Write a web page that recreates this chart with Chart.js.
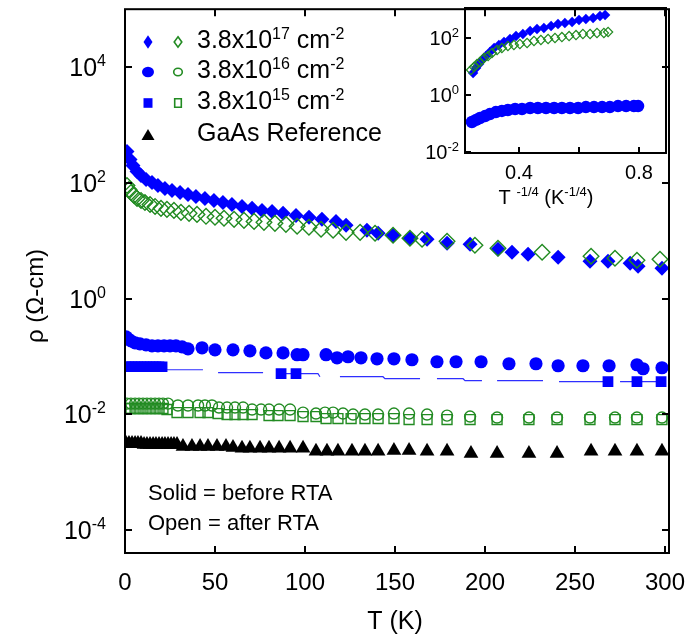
<!DOCTYPE html>
<html>
<head>
<meta charset="utf-8">
<script src="https://cdn.jsdelivr.net/npm/chart.js@4.4.0/dist/chart.umd.min.js"></script>
<style>
  html, body { margin: 0; padding: 0; background: #fff; }
  #wrap { position: relative; width: 690px; height: 642px; }
  #wrap canvas { position: absolute; left: 0; top: 0; }
</style>
</head>
<body>
<div id="wrap">
  <canvas id="mainChart" width="690" height="642"></canvas>
  <canvas id="insetChart" width="690" height="642"></canvas>
</div>
<script>
// ---- main plot: T (K) vs rho (ohm-cm) ----
const T_d17Before = [1.1, 2.8, 4.4, 6.7, 8.9, 11.7, 15, 18.3, 22.2, 26.1, 30.6, 35, 39.4, 44.4, 49.4, 54.4, 59.4, 65, 70.6, 76.1, 81.7, 87.8, 95, 102.2, 109.4, 117.2, 122.8, 134.4, 140.6, 148.9, 158.3, 167.8, 178.9, 191.7, 207.2, 215, 223.9, 240.6, 258.3, 268.3, 280.6, 285, 298.3];
const rho_d17Before = [345, 251, 198, 156, 133, 114, 101, 89.7, 79.7, 73.6, 67.9, 62.8, 58.0, 53.6, 49.5, 45.7, 42.2, 39.0, 36.1, 33.3, 32.0, 29.6, 27.3, 25.3, 23.3, 21.5, 18.4, 15.1, 13.4, 12.4, 11.0, 10.6, 9.0, 8.66, 7.11, 6.31, 5.83, 5.18, 4.42, 4.42, 4.08, 3.62, 3.35];

const T_d17After = [1.1, 2.2, 3.3, 5.0, 6.7, 8.9, 11.1, 13.9, 16.7, 20.0, 23.3, 27.2, 31.1, 35.6, 40.0, 45.0, 50.0, 55.0, 60.6, 66.1, 71.7, 77.2, 83.3, 89.4, 95.6, 102.2, 108.9, 115.6, 122.8, 130.6, 138.9, 148.9, 158.3, 165.0, 178.9, 194.4, 207.2, 231.7, 258.9, 272.2, 284.4, 297.2];
const rho_d17After = [89.7, 76.6, 67.9, 60.4, 53.6, 49.5, 45.7, 42.2, 39.0, 36.1, 34.7, 33.3, 30.8, 29.6, 28.4, 26.3, 25.3, 24.3, 23.3, 22.4, 21.5, 20.7, 19.9, 19.1, 17.7, 17.0, 15.7, 15.1, 13.9, 13.9, 13.4, 12.4, 11.0, 10.6, 9.75, 8.32, 7.39, 6.31, 5.38, 4.97, 4.59, 4.78];

const T_c16Before = [0.6, 1.7, 3.3, 5.6, 8.3, 11.7, 15.0, 18.3, 21.7, 25.0, 28.3, 31.7, 35.0, 42.8, 50.0, 60.0, 69.4, 78.3, 87.8, 95.6, 98.9, 111.7, 117.8, 123.9, 131.1, 140.0, 149.4, 159.4, 173.3, 183.9, 197.8, 213.3, 228.3, 240.6, 254.4, 268.9, 284.4, 287.8, 298.3];
const rho_c16Before = [0.218, 0.201, 0.186, 0.172, 0.165, 0.158, 0.152, 0.152, 0.152, 0.152, 0.152, 0.146, 0.135, 0.141, 0.130, 0.130, 0.125, 0.115, 0.115, 0.107, 0.107, 0.107, 0.0947, 0.0986, 0.0947, 0.0910, 0.0910, 0.0875, 0.0809, 0.0809, 0.0809, 0.0747, 0.0747, 0.0690, 0.0690, 0.0690, 0.0718, 0.0612, 0.0637];

const T_c16After = [1.1, 3.3, 5.6, 7.8, 10.0, 12.2, 14.4, 16.7, 18.9, 21.1, 23.9, 29.4, 35.0, 40.6, 44.4, 48.3, 52.2, 56.7, 61.1, 65.6, 70.6, 75.6, 80.0, 85.6, 91.7, 98.9, 106.1, 111.1, 115.6, 121.1, 126.7, 133.3, 140.6, 149.4, 157.8, 167.8, 178.9, 191.7, 206.7, 224.4, 240.0, 258.3, 272.2, 284.4, 298.3];
const rho_c16After = [0.0153, 0.0153, 0.0153, 0.0153, 0.0153, 0.0153, 0.0153, 0.0153, 0.0153, 0.0153, 0.0153, 0.0142, 0.0142, 0.0142, 0.0142, 0.0142, 0.0131, 0.0131, 0.0131, 0.0131, 0.0121, 0.0121, 0.0121, 0.0121, 0.0121, 0.0107, 0.0103, 0.0107, 0.0107, 0.0103, 0.0099, 0.0099, 0.0099, 0.0103, 0.0103, 0.0099, 0.0095, 0.00915, 0.00879, 0.00879, 0.00879, 0.00879, 0.00879, 0.00879, 0.00879];

// 3.8e15 before: visible square markers, and the thin trace that joins the series
const T_s15Before = [0.6, 2.2, 3.9, 5.6, 7.2, 8.9, 10.6, 12.2, 13.9, 15.6, 17.2, 18.9, 20.6, 86.7, 95.0, 268.3, 284.4, 297.8];
const rho_s15Before = [0.0663, 0.0663, 0.0663, 0.0663, 0.0663, 0.0663, 0.0663, 0.0663, 0.0663, 0.0663, 0.0663, 0.0663, 0.0663, 0.0503, 0.0503, 0.0366, 0.0366, 0.0366];
const T_s15Trace = [21.1, 43.3, 47, 51.7, 76.7, 82, 86.7, 95.0, 107.2, 108.3, 114, 119.4, 143.3, 144.4, 163.9, 168, 173.3, 187.8, 188.9, 198.3, 202, 206.7, 232.2, 236, 241.1, 268.3, 272, 275.0, 297.8];
const rho_s15Trace = [0.0589, 0.0589, null, 0.0523, 0.0523, null, 0.0503, 0.0503, 0.0503, 0.0446, null, 0.0446, 0.0446, 0.0412, 0.0412, null, 0.0412, 0.0412, 0.0381, 0.0381, null, 0.0381, 0.0381, null, 0.0366, 0.0366, null, 0.0366, 0.0366];

const T_s15After = [1.1, 3.3, 5.6, 7.8, 10.0, 12.2, 14.4, 16.7, 18.9, 21.1, 23.3, 28.9, 35.0, 41.7, 46.1, 51.7, 56.7, 61.1, 65.6, 70.6, 80.0, 85.0, 91.7, 98.9, 106.1, 111.7, 118.3, 125.6, 133.3, 140.6, 149.4, 157.8, 167.8, 178.9, 191.7, 206.7, 224.4, 240.0, 258.3, 272.2, 284.4, 298.3];
const rho_s15After = [0.0126, 0.0126, 0.0126, 0.0126, 0.0126, 0.0126, 0.0126, 0.0126, 0.0126, 0.0126, 0.0121, 0.0107, 0.0107, 0.0107, 0.0107, 0.0103, 0.0099, 0.0099, 0.0099, 0.0099, 0.0095, 0.0095, 0.0095, 0.00915, 0.00915, 0.00845, 0.00845, 0.00845, 0.00845, 0.00845, 0.00845, 0.00812, 0.00812, 0.00812, 0.00812, 0.00812, 0.00812, 0.00812, 0.00812, 0.00812, 0.00812, 0.00812];

const T_gaas = [0.6, 2.2, 3.9, 5.6, 7.2, 8.9, 10.6, 12.2, 13.9, 15.6, 17.2, 18.9, 20.6, 22.2, 23.9, 25.6, 27.2, 28.9, 32.2, 37.2, 41.7, 46.1, 51.1, 56.1, 60.0, 65.0, 69.4, 75.0, 80.0, 85.6, 91.7, 98.9, 106.1, 112.2, 118.3, 126.1, 133.3, 140.6, 149.4, 157.8, 167.8, 178.9, 192.2, 206.7, 224.4, 240.0, 258.9, 272.2, 284.4, 298.3];
const rho_gaas = [0.00314, 0.00314, 0.00314, 0.00314, 0.00314, 0.00314, 0.00302, 0.00302, 0.00302, 0.00302, 0.00302, 0.00302, 0.00302, 0.00302, 0.00302, 0.00302, 0.00302, 0.00302, 0.00279, 0.00279, 0.00279, 0.00279, 0.00279, 0.00279, 0.00268, 0.00258, 0.00258, 0.00258, 0.00258, 0.00258, 0.00258, 0.00258, 0.00229, 0.00229, 0.00229, 0.00229, 0.00229, 0.00229, 0.00238, 0.00238, 0.00229, 0.00229, 0.00211, 0.00211, 0.00211, 0.00211, 0.00229, 0.00229, 0.00229, 0.00229];

// ---- inset: T^-1/4 vs rho ----
const X_ins17Before = [0.247, 0.257, 0.267, 0.277, 0.290, 0.303, 0.317, 0.333, 0.350, 0.370, 0.390, 0.413, 0.437, 0.460, 0.483, 0.507, 0.530, 0.553, 0.577, 0.600, 0.623, 0.647, 0.670, 0.687];
const rho_ins17Before = [5.91, 8.86, 12.2, 16.9, 23.4, 32.3, 44.6, 56.8, 72.4, 92.2, 117, 138, 176, 207, 224, 264, 310, 336, 364, 428, 464, 503, 592, 641];
const X_ins17After = [0.240, 0.250, 0.260, 0.270, 0.283, 0.297, 0.310, 0.327, 0.343, 0.363, 0.383, 0.403, 0.427, 0.450, 0.473, 0.497, 0.520, 0.543, 0.567, 0.590, 0.613, 0.637, 0.660, 0.683, 0.697];
const rho_ins17After = [7.54, 9.6, 12.2, 14.4, 19.9, 23.4, 29.8, 37.9, 44.6, 52.4, 56.8, 61.6, 66.8, 78.5, 85.1, 92.2, 100, 108, 117, 127, 138, 138, 150, 150, 162];
const X_ins16Before = [0.243, 0.257, 0.270, 0.287, 0.303, 0.323, 0.343, 0.363, 0.387, 0.410, 0.437, 0.463, 0.490, 0.517, 0.543, 0.570, 0.597, 0.623, 0.650, 0.677, 0.703, 0.730, 0.757, 0.783, 0.797];
const rho_ins16Before = [0.113, 0.133, 0.156, 0.183, 0.215, 0.253, 0.275, 0.298, 0.323, 0.323, 0.350, 0.350, 0.350, 0.350, 0.350, 0.350, 0.350, 0.379, 0.379, 0.379, 0.379, 0.411, 0.411, 0.411, 0.411];

// ---- ticks and texts ----
const xTickValues = [0, 50, 100, 150, 200, 250, 300];
const yTickExponents = [4, 2, 0, -2, -4];
const insetXTicks = [0.4, 0.6, 0.8];
const insetXLabels = ['0.4', '0.8'];
const insetYExponents = [2, 0, -2];
const legendTexts = [
    [['3.8x10', 0], ['17', 1], [' cm', 0], ['-2', 1]],
    [['3.8x10', 0], ['16', 1], [' cm', 0], ['-2', 1]],
    [['3.8x10', 0], ['15', 1], [' cm', 0], ['-2', 1]],
    [['GaAs Reference', 0]]
];
const noteTexts = ['Solid = before RTA', 'Open = after RTA'];

const FONT = "'Liberation Sans', Arial, sans-serif";
const BLUE = '#0000ff';
const GREEN = '#228b22';

function pts(xs, ys) {
    return xs.map((x, i) => ({ x: x, y: ys[i] }));
}

// text with superscript pieces: parts = [[text, isSup], ...]
function drawRich(ctx, parts, x, y, size, supSize, rise, align) {
    let w = 0;
    parts.forEach(p => {
        ctx.font = (p[1] ? supSize : size) + 'px ' + FONT;
        w += ctx.measureText(p[0]).width;
    });
    let cx = align === 'right' ? x - w : (align === 'center' ? x - w / 2 : x);
    ctx.textAlign = 'left';
    ctx.textBaseline = 'alphabetic';
    parts.forEach(p => {
        ctx.font = (p[1] ? supSize : size) + 'px ' + FONT;
        ctx.fillText(p[0], cx, p[1] ? y - rise : y);
        cx += ctx.measureText(p[0]).width;
    });
}

function legendMarker(ctx, kind, x, y, filled, color) {
    ctx.beginPath();
    if (kind === 'diamond') {
        const w = filled ? 4.5 : 3.8, h = filled ? 6.8 : 5.2;
        ctx.moveTo(x, y - h); ctx.lineTo(x + w, y); ctx.lineTo(x, y + h); ctx.lineTo(x - w, y); ctx.closePath();
    } else if (kind === 'circle') {
        if (filled) ctx.ellipse(x, y, 6, 5.2, 0, 0, Math.PI * 2);
        else ctx.ellipse(x, y, 4.3, 3.8, 0, 0, Math.PI * 2);
    } else if (kind === 'square') {
        if (filled) ctx.rect(x - 4.5, y - 4.8, 9, 9.6);
        else ctx.rect(x - 3.3, y - 4.3, 6.6, 8.6);
    } else {
        ctx.moveTo(x, y - 6); ctx.lineTo(x + 6.5, y + 5); ctx.lineTo(x - 6.5, y + 5); ctx.closePath();
    }
    if (filled) { ctx.fillStyle = color; ctx.fill(); }
    else { ctx.strokeStyle = color; ctx.lineWidth = 1.6; ctx.stroke(); }
}

const mainFrame = {
    id: 'mainFrame',
    afterDraw(chart) {
        const ctx = chart.ctx;
        const a = chart.chartArea;
        const xs = chart.scales.x, ys = chart.scales.y;
        ctx.save();
        ctx.strokeStyle = '#000';
        ctx.fillStyle = '#000';
        ctx.lineWidth = 2;
        ctx.strokeRect(a.left, a.top, a.right - a.left, a.bottom - a.top);

        // ticks pointing inward
        ctx.beginPath();
        yTickExponents.forEach(e => {
            const py = Math.round(ys.getPixelForValue(Math.pow(10, e)));
            ctx.moveTo(a.left, py); ctx.lineTo(a.left + 7, py);
            ctx.moveTo(a.right, py); ctx.lineTo(a.right - 7, py);
        });
        xTickValues.forEach(v => {
            const px = Math.round(xs.getPixelForValue(v));
            ctx.moveTo(px, a.top); ctx.lineTo(px, a.top + 7);
            ctx.moveTo(px, a.bottom); ctx.lineTo(px, a.bottom - 7);
        });
        ctx.stroke();

        // y tick labels 10^n
        yTickExponents.forEach(e => {
            const py = ys.getPixelForValue(Math.pow(10, e));
            drawRich(ctx, [['10', 0], [String(e), 1]], 106, py + 9, 25, 16, 10, 'right');
        });
        // x tick labels
        ctx.font = '24px ' + FONT;
        ctx.textAlign = 'center';
        ctx.textBaseline = 'alphabetic';
        xTickValues.forEach(v => {
            ctx.fillText(String(v), xs.getPixelForValue(v), 590);
        });
        // axis titles
        ctx.font = '25px ' + FONT;
        ctx.fillText('T (K)', (a.left + a.right) / 2 - 2, 629);
        ctx.save();
        ctx.translate(36, 296);
        ctx.rotate(-Math.PI / 2);
        ctx.textBaseline = 'middle';
        ctx.font = '24px ' + FONT;
        ctx.fillText('\u03c1 (\u03a9-cm)', 0, 0);
        ctx.restore();

        // legend
        const rowY = [42, 72, 103, 135];
        const kinds = ['diamond', 'circle', 'square', 'triangle'];
        kinds.forEach((k, i) => {
            legendMarker(ctx, k, 148, rowY[i], true, k === 'triangle' ? '#000' : BLUE);
            if (k !== 'triangle') legendMarker(ctx, k, 178, rowY[i], false, GREEN);
            ctx.fillStyle = '#000';
            drawRich(ctx, legendTexts[i], 197, rowY[i] + 6, 25, 16, 9, 'left');
        });

        // notes
        ctx.fillStyle = '#000';
        ctx.font = '22px ' + FONT;
        ctx.textAlign = 'left';
        ctx.fillText(noteTexts[0], 148, 500);
        ctx.fillText(noteTexts[1], 148, 530);
        ctx.restore();
    }
};

const insetFrame = {
    id: 'insetFrame',
    afterDraw(chart) {
        const ctx = chart.ctx;
        const a = chart.chartArea;
        const xs = chart.scales.x, ys = chart.scales.y;
        ctx.save();
        ctx.strokeStyle = '#000';
        ctx.fillStyle = '#000';
        ctx.lineWidth = 2;
        ctx.strokeRect(a.left, a.top, a.right - a.left, a.bottom - a.top);
        ctx.beginPath();
        insetXTicks.forEach(v => {
            const px = Math.round(xs.getPixelForValue(v));
            ctx.moveTo(px, a.bottom); ctx.lineTo(px, a.bottom - 6);
        });
        insetYExponents.forEach(e => {
            const py = Math.round(ys.getPixelForValue(Math.pow(10, e)));
            ctx.moveTo(a.left, py); ctx.lineTo(a.left + 6, py);
        });
        ctx.stroke();

        insetYExponents.forEach(e => {
            const py = ys.getPixelForValue(Math.pow(10, e));
            drawRich(ctx, [['10', 0], [String(e), 1]], 459, py + 7, 20, 13, 8, 'right');
        });
        ctx.font = '20px ' + FONT;
        ctx.textAlign = 'center';
        ctx.textBaseline = 'alphabetic';
        insetXLabels.forEach(t => {
            ctx.fillText(t, xs.getPixelForValue(parseFloat(t)), 179);
        });
        drawRich(ctx, [['T ', 0], ['-1/4', 1], [' (K', 0], ['-1/4', 1], [')', 0]], 546, 204, 20, 13, 8, 'center');
        ctx.restore();
    }
};

function initCharts() {
    const mainCtx = document.getElementById('mainChart').getContext('2d');
    new Chart(mainCtx, {
        type: 'scatter',
        data: {
            datasets: [
                { data: pts(T_d17After, rho_d17After), pointStyle: 'rectRot', pointRadius: 7.8,
                  backgroundColor: 'rgba(0,0,0,0)', borderColor: GREEN, pointBorderWidth: 1.4 },
                { data: pts(T_c16After, rho_c16After), pointStyle: 'circle', pointRadius: 5.5,
                  backgroundColor: 'rgba(0,0,0,0)', borderColor: GREEN, pointBorderWidth: 1.4 },
                { data: pts(T_s15After, rho_s15After), pointStyle: 'rect', pointRadius: 7,
                  backgroundColor: 'rgba(0,0,0,0)', borderColor: GREEN, pointBorderWidth: 1.4 },
                { data: pts(T_d17Before, rho_d17Before), pointStyle: 'rectRot', pointRadius: 7.5,
                  backgroundColor: BLUE, borderColor: BLUE, pointBorderWidth: 0 },
                { data: pts(T_c16Before, rho_c16Before), pointStyle: 'circle', pointRadius: 6.6,
                  backgroundColor: BLUE, borderColor: BLUE, pointBorderWidth: 0 },
                { data: pts(T_s15Before, rho_s15Before), pointStyle: 'rect', pointRadius: 7.6,
                  backgroundColor: BLUE, borderColor: BLUE, pointBorderWidth: 0 },
                { data: pts(T_s15Trace, rho_s15Trace), showLine: true, spanGaps: false, pointRadius: 0,
                  borderColor: '#2e2eff', borderWidth: 1.2 },
                { data: pts(T_gaas, rho_gaas), pointStyle: 'triangle', pointRadius: 8.5,
                  backgroundColor: '#000', borderColor: '#000', pointBorderWidth: 0 }
            ]
        },
        options: {
            responsive: false,
            animation: false,
            layout: { padding: { left: 125, right: 21, top: 7, bottom: 89 } },
            scales: {
                x: { type: 'linear', display: false, min: 0, max: 302.2 },
                y: { type: 'logarithmic', display: false, min: 4.02e-5, max: 9.95e4 }
            },
            plugins: { legend: { display: false }, tooltip: { enabled: false } }
        },
        plugins: [mainFrame]
    });

    const insetCtx = document.getElementById('insetChart').getContext('2d');
    new Chart(insetCtx, {
        type: 'scatter',
        data: {
            datasets: [
                { data: pts(X_ins17After, rho_ins17After), pointStyle: 'rectRot', pointRadius: 4.6,
                  backgroundColor: 'rgba(0,0,0,0)', borderColor: GREEN, pointBorderWidth: 1.2 },
                { data: pts(X_ins17Before, rho_ins17Before), pointStyle: 'rectRot', pointRadius: 5.2,
                  backgroundColor: BLUE, borderColor: BLUE, pointBorderWidth: 0 },
                { data: pts(X_ins16Before, rho_ins16Before), pointStyle: 'circle', pointRadius: 6.2,
                  backgroundColor: BLUE, borderColor: BLUE, pointBorderWidth: 0 }
            ]
        },
        options: {
            responsive: false,
            animation: false,
            layout: { padding: { left: 465, right: 24, top: 8, bottom: 489 } },
            scales: {
                x: { type: 'linear', display: false, min: 0.22, max: 0.89 },
                y: { type: 'logarithmic', display: false, min: 0.00923, max: 1130 }
            },
            plugins: { legend: { display: false }, tooltip: { enabled: false } }
        },
        plugins: [insetFrame]
    });
}

document.addEventListener('DOMContentLoaded', initCharts);
</script>
</body>
</html>
